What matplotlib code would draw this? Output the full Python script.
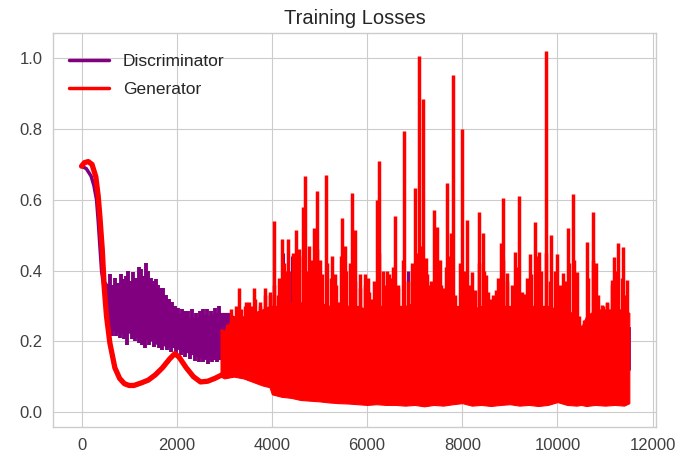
import matplotlib
matplotlib.use("Agg")
import matplotlib.pyplot as plt
from matplotlib.lines import Line2D

plt.style.use('seaborn-v0_8-whitegrid')
plt.rcParams['font.family'] = ['Liberation Sans', 'DejaVu Sans']

# -----------------------------
# DATA
# -----------------------------
# discriminator: smooth start, then a noisy band
d_x_early = [0, 100, 200, 260, 315, 350, 385, 420, 450, 490]
d_y_early = [0.695, 0.688, 0.667, 0.64, 0.60, 0.54, 0.47, 0.40, 0.37, 0.34]

d_band_x = [490, 600, 700, 800, 900, 1000, 1100, 1200, 1300, 1400, 1500, 1600, 1700,
            1800, 1900, 2000, 2100, 2200, 2300, 2400, 2500, 2600, 2700, 2800, 2900,
            3000, 3100, 3200, 3300, 4000, 6000, 8000, 10000, 11520]
d_band_hi = [0.37, 0.35, 0.34, 0.35, 0.36, 0.35, 0.36, 0.36, 0.37, 0.36, 0.345, 0.34, 0.33,
             0.31, 0.29, 0.28, 0.275, 0.27, 0.265, 0.265, 0.27, 0.275, 0.27, 0.28, 0.28,
             0.28, 0.28, 0.27, 0.27, 0.27, 0.26, 0.25, 0.24, 0.24]
d_band_lo = [0.30, 0.235, 0.23, 0.225, 0.22, 0.225, 0.215, 0.21, 0.21, 0.205, 0.20, 0.19, 0.19,
             0.185, 0.185, 0.18, 0.175, 0.17, 0.165, 0.16, 0.155, 0.15, 0.15, 0.15, 0.15,
             0.15, 0.15, 0.15, 0.15, 0.14, 0.13, 0.12, 0.12, 0.12]

# noise teeth above / below the discriminator band
d_up_x = [600, 650, 700, 760, 820, 870, 930, 980, 1040, 1090,
          1150, 1210, 1250, 1300, 1350, 1390, 1450, 1500, 1560, 1610,
          1660, 1720, 1780, 1840, 1900, 1960, 2030, 2100, 2170, 2240,
          2320, 2400, 2480, 2560, 2640, 2720, 2800, 2880]
d_up_top = [0.39, 0.36, 0.38, 0.365, 0.39, 0.375, 0.385, 0.40, 0.37, 0.395,
            0.38, 0.41, 0.405, 0.385, 0.42, 0.40, 0.38, 0.37, 0.375, 0.36,
            0.35, 0.35, 0.33, 0.32, 0.31, 0.30, 0.295, 0.29, 0.285, 0.285,
            0.29, 0.28, 0.285, 0.29, 0.29, 0.285, 0.295, 0.30]
d_dn_x = [630, 720, 800, 900, 960, 1060, 1130, 1200, 1280, 1330,
          1420, 1530, 1620, 1700, 1800, 1880, 1980, 2080, 2180, 2280,
          2380, 2460, 2550, 2650, 2750, 2850]
d_dn_bot = [0.215, 0.215, 0.21, 0.205, 0.19, 0.205, 0.20, 0.195, 0.19, 0.18,
            0.19, 0.185, 0.18, 0.175, 0.175, 0.17, 0.165, 0.16, 0.155, 0.15,
            0.145, 0.14, 0.14, 0.135, 0.14, 0.14]
# a few discriminator values that poke out of the generator band later on
d_poke_x = [4230, 4420, 5016, 6850]
d_poke_top = [0.45, 0.44, 0.41, 0.40]

# generator: smooth start, then a noisy band with spikes
g_x_early = [0, 60, 140, 220, 300, 350, 385, 435, 477, 525, 595, 700, 800, 900, 1000,
             1100, 1250, 1400, 1550, 1700, 1850, 1960, 2050, 2200, 2350, 2500, 2650,
             2800, 2950]
g_y_early = [0.695, 0.705, 0.708, 0.70, 0.665, 0.61, 0.553, 0.46, 0.35, 0.27, 0.195, 0.125,
             0.095, 0.08, 0.075, 0.075, 0.082, 0.09, 0.105, 0.125, 0.15, 0.165, 0.155,
             0.125, 0.10, 0.085, 0.087, 0.095, 0.105]

g_band_x = [2920, 3000, 3200, 3400, 3600, 3800, 3950, 4000, 4200, 4400, 4600, 4800, 5000,
            5200, 5400, 5600, 5800, 6000, 6200, 6400, 6600, 6800, 7000, 7200, 7400, 7600,
            7800, 8000, 8200, 8400, 8600, 8800, 9000, 9200, 9400, 9600, 9800, 10000, 10200,
            10400, 10500, 10600, 10800, 11000, 11200, 11400, 11510]
g_band_lo = [0.10, 0.095, 0.10, 0.095, 0.085, 0.075, 0.07, 0.05, 0.043, 0.04, 0.034, 0.032,
             0.03, 0.027, 0.025, 0.024, 0.022, 0.02, 0.022, 0.02, 0.02, 0.018, 0.02, 0.016,
             0.02, 0.018, 0.022, 0.025, 0.018, 0.02, 0.017, 0.02, 0.022, 0.018, 0.02, 0.017,
             0.02, 0.028, 0.02, 0.018, 0.02, 0.017, 0.02, 0.018, 0.02, 0.018, 0.025]
g_band_hi = [0.235, 0.23, 0.27, 0.27, 0.28, 0.29, 0.30, 0.30, 0.30, 0.31, 0.31, 0.31, 0.31,
             0.30, 0.31, 0.30, 0.30, 0.29, 0.30, 0.30, 0.30, 0.30, 0.31, 0.30, 0.30, 0.29,
             0.30, 0.30, 0.29, 0.30, 0.29, 0.30, 0.30, 0.29, 0.30, 0.30, 0.30, 0.29, 0.29,
             0.27, 0.24, 0.27, 0.29, 0.29, 0.29, 0.29, 0.28]

# tall generator spikes
g_spike_x = [3313, 3432, 3520, 3628, 3747, 3852, 3958, 4041, 4120, 4203, 4280, 4342, 4497,
             4560, 4650, 4700, 4770, 4876, 4946, 5020, 5134, 5262, 5330, 5464, 5542, 5674,
             5753, 5858, 5950, 6012, 6104, 6209, 6258, 6330, 6420, 6500, 6585, 6650, 6784,
             6940, 7016, 7086, 7177, 7241, 7300, 7404, 7460, 7530, 7600, 7683, 7760, 7802,
             7880, 7998, 8090, 8200, 8270, 8357, 8440, 8500, 8600, 8700, 8805, 8861, 8950,
             9106, 9197, 9300, 9420, 9527, 9620, 9767, 9858, 10000, 10120, 10227, 10332,
             10400, 10612, 10739, 10820, 10930, 11040, 11140, 11194, 11278, 11380, 11470]
g_spike_top = [0.35, 0.30, 0.31, 0.35, 0.30, 0.35, 0.33, 0.54, 0.33, 0.49, 0.40, 0.49, 0.515,
               0.46, 0.58, 0.667, 0.47, 0.52, 0.624, 0.43, 0.671, 0.44, 0.39, 0.548, 0.47, 0.619,
               0.515, 0.39, 0.39, 0.38, 0.32, 0.60, 0.709, 0.40, 0.40, 0.38, 0.555, 0.36, 0.794,
               0.42, 0.633, 1.006, 0.884, 0.435, 0.36, 0.571, 0.524, 0.43, 0.35, 0.648, 0.505, 0.954,
               0.30, 0.799, 0.543, 0.397, 0.345, 0.566, 0.505, 0.387, 0.32, 0.345, 0.477, 0.605, 0.392,
               0.453, 0.61, 0.335, 0.448, 0.538, 0.453, 1.02, 0.50, 0.448, 0.392, 0.519, 0.615,
               0.397, 0.481, 0.566, 0.42, 0.302, 0.307, 0.373, 0.439, 0.477, 0.467, 0.373]

# medium generator noise, one value every 100 steps from 3050
g_mid_x = list(range(3050, 11451, 100))
g_mid_top = [0.25, 0.29, 0.30, 0.29, 0.31, 0.30, 0.32, 0.31, 0.33, 0.34,
             0.36, 0.38, 0.42, 0.40, 0.45, 0.41, 0.44, 0.40, 0.43, 0.46,
             0.39, 0.42, 0.38, 0.36, 0.44, 0.40, 0.42, 0.37, 0.35, 0.36,
             0.34, 0.37, 0.45, 0.36, 0.39, 0.41, 0.35, 0.43, 0.37, 0.40,
             0.45, 0.47, 0.39, 0.37, 0.43, 0.36, 0.41, 0.44, 0.33, 0.42,
             0.40, 0.36, 0.34, 0.42, 0.40, 0.34, 0.33, 0.38, 0.43, 0.37,
             0.36, 0.41, 0.34, 0.38, 0.39, 0.44, 0.40, 0.45, 0.37, 0.40,
             0.36, 0.37, 0.42, 0.43, 0.27, 0.26, 0.38, 0.43, 0.33, 0.30,
             0.31, 0.36, 0.40, 0.38, 0.33]

D_COLOR = "purple"
G_COLOR = "red"

# -----------------------------
# PLOT
# -----------------------------
fig = plt.figure(figsize=(7, 4.62), dpi=100)
ax = fig.add_axes([0.0764, 0.0764, 0.8614, 0.8528])

# discriminator first (zorder 2), generator drawn on top (zorder 3)
ax.plot(d_x_early, d_y_early, color=D_COLOR, linewidth=2.5, zorder=2)
ax.fill_between(d_band_x, d_band_lo, d_band_hi, color=D_COLOR, linewidth=0.8, zorder=2)
ax.vlines(d_up_x, 0.25, d_up_top, color=D_COLOR, linewidth=2.8, zorder=2)
ax.vlines(d_dn_x, d_dn_bot, 0.25, color=D_COLOR, linewidth=2.8, zorder=2)
ax.vlines(d_poke_x, 0.25, d_poke_top, color=D_COLOR, linewidth=2.2, zorder=2)

ax.plot(g_x_early, g_y_early, color=G_COLOR, linewidth=3.8, zorder=3)
ax.fill_between(g_band_x, g_band_lo, g_band_hi, color=G_COLOR, linewidth=0.8, zorder=3)
ax.vlines(g_mid_x, 0.2, g_mid_top, color=G_COLOR, linewidth=2.5, zorder=3)
ax.vlines(g_spike_x, 0.2, g_spike_top, color=G_COLOR, linewidth=2.5, zorder=3)

ax.set_xlim(-590, 12080)
ax.set_ylim(-0.0416, 1.0724)
ax.set_xticks(range(0, 12001, 2000))
ax.set_yticks([0.0, 0.2, 0.4, 0.6, 0.8, 1.0])
ax.set_yticklabels(["0.0", "0.2", "0.4", "0.6", "0.8", "1.0"])
ax.tick_params(axis='both', labelsize=12, pad=8, colors='.25', length=0)
ax.set_title("Training Losses", fontsize=14.5, color='.15')

handles = [Line2D([], [], color=D_COLOR, linewidth=2.5),
           Line2D([], [], color=G_COLOR, linewidth=2.5)]
ax.legend(handles, ["Discriminator", "Generator"], loc='upper left', bbox_to_anchor=(0.0, 0.987),
          fontsize=12.5, frameon=False, handlelength=2.3, labelspacing=0.75)

fig.savefig("out.png", dpi=100)
